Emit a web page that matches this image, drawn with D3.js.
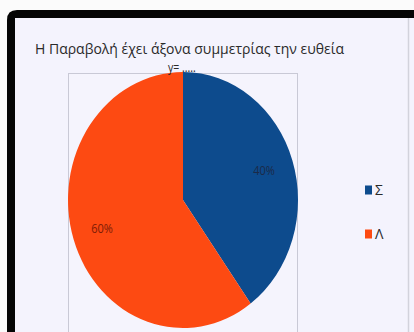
<!DOCTYPE html>
<html>
<head>
<meta charset="utf-8">
<script src="https://cdn.jsdelivr.net/npm/d3@7"></script>
<style>
  html, body { margin: 0; padding: 0; background: #fbfbfb; }
  svg { display: block; }
</style>
</head>
<body>
<svg id="chart" width="414" height="332"></svg>
<script>
// Answers to the question about the parabola's axis of symmetry
const categories = ["Σ", "Λ"];
const values = [40, 60];
const colors = ["#0d4b8d", "#fd4a12"];
const titleLines = ["Η Παραβολή έχει άξονα συμμετρίας την ευθεία", "y= ....."];

const svg = d3.select("#chart");

// outer frame: dark border with lavender inner panel
svg.append("path")
  .attr("d", "M7,332 L7,20 Q7,10 17,10 L414,10 L414,332 Z")
  .attr("fill", "#050505");
svg.append("rect")
  .attr("x", 15).attr("y", 18).attr("width", 399).attr("height", 314)
  .attr("fill", "#f4f3fd");
svg.append("line")
  .attr("x1", 408.5).attr("x2", 408.5).attr("y1", 18).attr("y2", 332)
  .attr("stroke", "#d2d2dc").attr("stroke-width", 1.5);

// plot area box
const plot = { x: 68, y: 73, w: 229, h: 270 };
svg.append("rect")
  .attr("x", plot.x + 0.5).attr("y", plot.y + 0.5)
  .attr("width", plot.w).attr("height", plot.h)
  .attr("fill", "#f5f4fd").attr("stroke", "#c9c9d6");

// pie, drawn on a unit circle then stretched to the plot ellipse
const cx = 183, cy = 200, rx = 115, ry = 128;
const pie = d3.pie().sort(null).value(d => d)(values);
const arc = d3.arc().innerRadius(0).outerRadius(1);
const labelArc = d3.arc().innerRadius(0.74).outerRadius(0.74);

const g = svg.append("g").attr("transform", `translate(${cx},${cy}) scale(${rx},${ry})`);
g.selectAll("path").data(pie).enter().append("path")
  .attr("d", arc)
  .attr("fill", (d, i) => colors[i]);

// title, two lines (second line rests on the top of the pie)
const title = svg.append("g").attr("font-family", "'Open Sans', sans-serif").attr("fill", "#2a2a2a");
title.append("text")
  .attr("transform", "translate(35,54) scale(1,1.3)")
  .attr("font-size", 11.5)
  .attr("textLength", 309)
  .attr("lengthAdjust", "spacingAndGlyphs")
  .text(titleLines[0]);
title.append("text")
  .attr("transform", "translate(168,71.5) scale(1,1.25)")
  .attr("font-size", 10.5)
  .text(titleLines[1]);

const total = d3.sum(values);
const labelColors = ["#1b2a48", "#7c1c06"];
svg.selectAll("text.pct").data(pie).enter().append("text")
  .attr("class", "pct")
  .attr("transform", d => {
    const [lx, ly] = labelArc.centroid(d);
    return `translate(${cx + lx * rx},${cy + ly * ry + 4}) scale(1,1.2)`;
  })
  .attr("text-anchor", "middle")
  .attr("font-family", "'Open Sans', sans-serif")
  .attr("font-size", 11)
  .attr("fill", (d, i) => labelColors[i])
  .text(d => Math.round(d.data / total * 100) + "%");

// legend
const legend = svg.append("g").attr("transform", "translate(365,190)");
const item = legend.selectAll("g").data(categories).enter().append("g")
  .attr("transform", (d, i) => `translate(0,${i * 44})`);
item.append("rect")
  .attr("x", 0).attr("y", -4.5).attr("width", 7).attr("height", 9)
  .attr("fill", (d, i) => colors[i]);
item.append("text")
  .attr("x", 10).attr("y", 0).attr("dy", "0.36em")
  .attr("font-family", "'Open Sans', sans-serif")
  .attr("font-size", 14)
  .attr("fill", "#2a2a2a")
  .text(d => d);
</script>
</body>
</html>
